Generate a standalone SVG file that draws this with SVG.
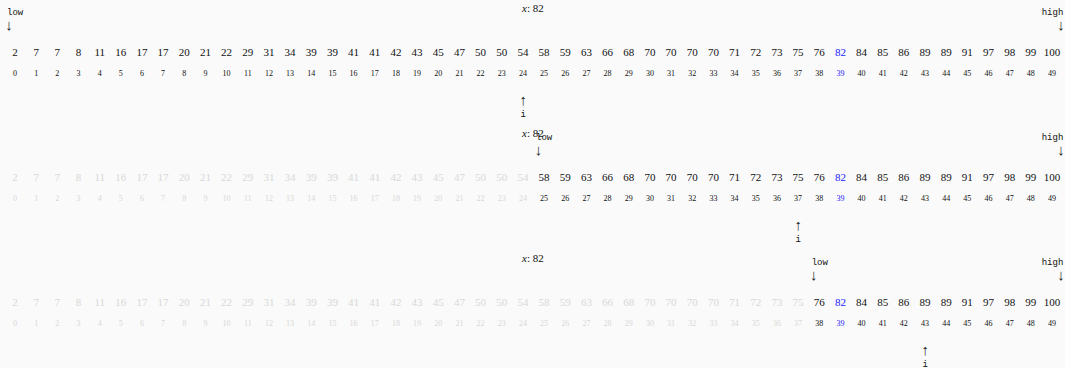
<svg xmlns="http://www.w3.org/2000/svg" xmlns:xlink="http://www.w3.org/1999/xlink" width="1065" height="368" viewBox="0 0 1065 368">
<style>
.v{font-size:11px;text-anchor:middle}
.ix{font-size:8px;text-anchor:middle}
.tt{font-size:9px;fill:#111}
.ar{font-size:15px;fill:#222;text-anchor:middle}
.xl{font-size:11px;fill:#111}
.hl{fill:#2020ff}
</style>
<defs>
<g id="segA" font-family="Liberation Serif, serif">
<text class="v" x="15.0" y="55.5">2</text><text class="v" x="36.2" y="55.5">7</text><text class="v" x="57.3" y="55.5">7</text><text class="v" x="78.5" y="55.5">8</text><text class="v" x="99.7" y="55.5">11</text><text class="v" x="120.8" y="55.5">16</text><text class="v" x="142.0" y="55.5">17</text><text class="v" x="163.1" y="55.5">17</text><text class="v" x="184.3" y="55.5">20</text><text class="v" x="205.5" y="55.5">21</text><text class="v" x="226.6" y="55.5">22</text><text class="v" x="247.8" y="55.5">29</text><text class="v" x="269.0" y="55.5">31</text><text class="v" x="290.1" y="55.5">34</text><text class="v" x="311.3" y="55.5">39</text><text class="v" x="332.4" y="55.5">39</text><text class="v" x="353.6" y="55.5">41</text><text class="v" x="374.8" y="55.5">41</text><text class="v" x="395.9" y="55.5">42</text><text class="v" x="417.1" y="55.5">43</text><text class="v" x="438.3" y="55.5">45</text><text class="v" x="459.4" y="55.5">47</text><text class="v" x="480.6" y="55.5">50</text><text class="v" x="501.7" y="55.5">50</text><text class="v" x="522.9" y="55.5">54</text>
<text class="ix" x="15.0" y="75.8">0</text><text class="ix" x="36.2" y="75.8">1</text><text class="ix" x="57.3" y="75.8">2</text><text class="ix" x="78.5" y="75.8">3</text><text class="ix" x="99.7" y="75.8">4</text><text class="ix" x="120.8" y="75.8">5</text><text class="ix" x="142.0" y="75.8">6</text><text class="ix" x="163.1" y="75.8">7</text><text class="ix" x="184.3" y="75.8">8</text><text class="ix" x="205.5" y="75.8">9</text><text class="ix" x="226.6" y="75.8">10</text><text class="ix" x="247.8" y="75.8">11</text><text class="ix" x="269.0" y="75.8">12</text><text class="ix" x="290.1" y="75.8">13</text><text class="ix" x="311.3" y="75.8">14</text><text class="ix" x="332.4" y="75.8">15</text><text class="ix" x="353.6" y="75.8">16</text><text class="ix" x="374.8" y="75.8">17</text><text class="ix" x="395.9" y="75.8">18</text><text class="ix" x="417.1" y="75.8">19</text><text class="ix" x="438.3" y="75.8">20</text><text class="ix" x="459.4" y="75.8">21</text><text class="ix" x="480.6" y="75.8">22</text><text class="ix" x="501.7" y="75.8">23</text><text class="ix" x="522.9" y="75.8">24</text>
</g>
<g id="segB" font-family="Liberation Serif, serif">
<text class="v" x="544.1" y="55.5">58</text><text class="v" x="565.2" y="55.5">59</text><text class="v" x="586.4" y="55.5">63</text><text class="v" x="607.6" y="55.5">66</text><text class="v" x="628.7" y="55.5">68</text><text class="v" x="649.9" y="55.5">70</text><text class="v" x="671.1" y="55.5">70</text><text class="v" x="692.2" y="55.5">70</text><text class="v" x="713.4" y="55.5">70</text><text class="v" x="734.5" y="55.5">71</text><text class="v" x="755.7" y="55.5">72</text><text class="v" x="776.9" y="55.5">73</text><text class="v" x="798.0" y="55.5">75</text>
<text class="ix" x="544.1" y="75.8">25</text><text class="ix" x="565.2" y="75.8">26</text><text class="ix" x="586.4" y="75.8">27</text><text class="ix" x="607.6" y="75.8">28</text><text class="ix" x="628.7" y="75.8">29</text><text class="ix" x="649.9" y="75.8">30</text><text class="ix" x="671.1" y="75.8">31</text><text class="ix" x="692.2" y="75.8">32</text><text class="ix" x="713.4" y="75.8">33</text><text class="ix" x="734.5" y="75.8">34</text><text class="ix" x="755.7" y="75.8">35</text><text class="ix" x="776.9" y="75.8">36</text><text class="ix" x="798.0" y="75.8">37</text>
</g>
<g id="segC" font-family="Liberation Serif, serif">
<text class="v" x="819.2" y="55.5">76</text><text class="v hl" x="840.4" y="55.5">82</text><text class="v" x="861.5" y="55.5">84</text><text class="v" x="882.7" y="55.5">85</text><text class="v" x="903.8" y="55.5">86</text><text class="v" x="925.0" y="55.5">89</text><text class="v" x="946.2" y="55.5">89</text><text class="v" x="967.3" y="55.5">91</text><text class="v" x="988.5" y="55.5">97</text><text class="v" x="1009.7" y="55.5">98</text><text class="v" x="1030.8" y="55.5">99</text><text class="v" x="1052.0" y="55.5">100</text>
<text class="ix" x="819.2" y="75.8">38</text><text class="ix hl" x="840.4" y="75.8">39</text><text class="ix" x="861.5" y="75.8">40</text><text class="ix" x="882.7" y="75.8">41</text><text class="ix" x="903.8" y="75.8">42</text><text class="ix" x="925.0" y="75.8">43</text><text class="ix" x="946.2" y="75.8">44</text><text class="ix" x="967.3" y="75.8">45</text><text class="ix" x="988.5" y="75.8">46</text><text class="ix" x="1009.7" y="75.8">47</text><text class="ix" x="1030.8" y="75.8">48</text><text class="ix" x="1052.0" y="75.8">49</text>
</g>
</defs>
<rect width="1065" height="368" fill="#fafafa"/>

<g id="step1">
<text class="xl" font-family="Liberation Serif, serif" x="522" y="12.3"><tspan font-style="italic">x</tspan>: 82</text>
<use xlink:href="#segA" fill="#111"/>
<use xlink:href="#segB" fill="#111"/>
<use xlink:href="#segC" fill="#111"/>
<g id="low1"><text class="tt" font-family="Liberation Mono, monospace" x="7" y="15">low</text><text class="ar" font-family="Liberation Serif, serif" x="9" y="30">↓</text></g>
<g id="high1"><text class="tt" font-family="Liberation Mono, monospace" x="1041.7" y="15">high</text><text class="ar" font-family="Liberation Serif, serif" x="1061" y="30">↓</text></g>
<g id="i1"><text class="ar" font-family="Liberation Serif, serif" x="523.3" y="105">↑</text><text class="tt" font-family="Liberation Mono, monospace" x="523.3" y="116.5" text-anchor="middle">i</text></g>
</g>

<g id="step2" transform="translate(0,125)">
<text class="xl" font-family="Liberation Serif, serif" x="522" y="12.3"><tspan font-style="italic">x</tspan>: 82</text>
<use xlink:href="#segA" fill="#d8d8d8"/>
<use xlink:href="#segB" fill="#111"/>
<use xlink:href="#segC" fill="#111"/>
<g id="low2"><text class="tt" font-family="Liberation Mono, monospace" x="536" y="15">low</text><text class="ar" font-family="Liberation Serif, serif" x="538.5" y="30">↓</text></g>
<g id="high2"><text class="tt" font-family="Liberation Mono, monospace" x="1041.7" y="15">high</text><text class="ar" font-family="Liberation Serif, serif" x="1061" y="30">↓</text></g>
<g id="i2"><text class="ar" font-family="Liberation Serif, serif" x="798.2" y="105">↑</text><text class="tt" font-family="Liberation Mono, monospace" x="798.2" y="116.5" text-anchor="middle">i</text></g>
</g>

<g id="step3" transform="translate(0,250)">
<text class="xl" font-family="Liberation Serif, serif" x="522" y="12.3"><tspan font-style="italic">x</tspan>: 82</text>
<use xlink:href="#segA" fill="#d8d8d8"/>
<use xlink:href="#segB" fill="#d8d8d8"/>
<use xlink:href="#segC" fill="#111"/>
<g id="low3"><text class="tt" font-family="Liberation Mono, monospace" x="811.7" y="15">low</text><text class="ar" font-family="Liberation Serif, serif" x="813.7" y="30">↓</text></g>
<g id="high3"><text class="tt" font-family="Liberation Mono, monospace" x="1041.7" y="15">high</text><text class="ar" font-family="Liberation Serif, serif" x="1061" y="30">↓</text></g>
<g id="i3"><text class="ar" font-family="Liberation Serif, serif" x="925.2" y="105">↑</text><text class="tt" font-family="Liberation Mono, monospace" x="925.2" y="116.5" text-anchor="middle">i</text></g>
</g>
</svg>
